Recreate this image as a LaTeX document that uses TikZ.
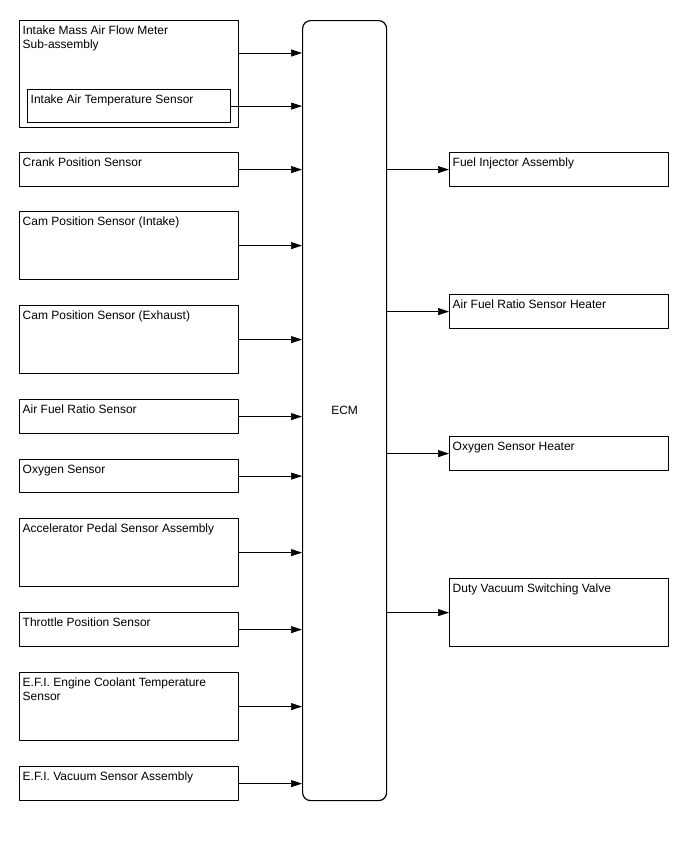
\documentclass[tikz,border=0pt]{standalone}
\usepackage{fontspec}
\setmainfont{Liberation Sans}
\usetikzlibrary{arrows.meta}

\tikzset{
  blk/.style={draw, line width=1.2pt, rectangle, anchor=north west, inner sep=0pt,
    minimum width=219pt, minimum height=#1},
  blk/.default=34pt,
  txt/.style={anchor=north west, inner sep=0pt, xshift=3.5pt, yshift=-5.5pt, align=left},
  conn/.style={line width=0.7pt, -{Triangle[length=11pt,width=7pt]}},
}

\begin{document}
\begin{tikzpicture}[x=1pt,y=-1pt,line join=round,font=\fontsize{12}{14}\selectfont]

  \useasboundingbox (0,0) rectangle (688,852);

  % ---- the ECM ---------------------------------------------------------------
  \node[draw, line width=1.2pt, rounded corners=8pt, anchor=north west,
        minimum width=84pt, minimum height=780pt] (ecm) at (302,20) {ECM};

  % ---- air flow meter, with the temperature sensor inside -------------------
  \node[blk=107pt] (maf) at (19,20) {};
  \node[txt] (maf-t) at (maf.north west) {Intake Mass Air Flow Meter\\Sub-assembly};
  \node[blk=33pt, minimum width=203pt] (iat) at (27,89) {};
  \node[txt] (iat-t) at (iat.north west) {Intake Air Temperature Sensor};
  \coordinate (maf-o) at ([yshift=-33pt]maf.north east);
  \draw[conn] (maf-o) -- (maf-o -| ecm.west);
  \draw[conn] (iat.east) -- (iat.east -| ecm.west);

  % ---- inputs (name / top / height / text) ----------------------------------
  \foreach \nm/\yy/\hh/\tx in {
      ckp/152/34pt/{Crank Position Sensor},
      cmpi/211/68pt/{Cam Position Sensor (Intake)},
      cmpe/305/68pt/{Cam Position Sensor (Exhaust)},
      afs/399/34pt/{Air Fuel Ratio Sensor},
      oxs/459/33pt/{Oxygen Sensor},
      app/518/68pt/{Accelerator Pedal Sensor Assembly},
      tps/612/34pt/{Throttle Position Sensor},
      ect/672/68pt/{E.F.I. Engine Coolant Temperature\\Sensor},
      vsv/766/34pt/{E.F.I. Vacuum Sensor Assembly}}{
    \node[blk=\hh] (\nm) at (19,\yy) {};
    \node[txt] (\nm-t) at (\nm.north west) {\tx};
    \draw[conn] (\nm.east) -- (\nm.east -| ecm.west);
  }

  % ---- outputs ---------------------------------------------------------------
  \foreach \nm/\yy/\hh/\tx in {
      inj/152/34pt/{Fuel Injector Assembly},
      afh/294/34pt/{Air Fuel Ratio Sensor Heater},
      oxh/436/34pt/{Oxygen Sensor Heater},
      dvsv/578/68pt/{Duty Vacuum Switching Valve}}{
    \node[blk=\hh] (\nm) at (449,\yy) {};
    \node[txt] (\nm-t) at (\nm.north west) {\tx};
    \draw[conn] (\nm.west -| ecm.east) -- (\nm.west);
  }

\end{tikzpicture}
\end{document}
